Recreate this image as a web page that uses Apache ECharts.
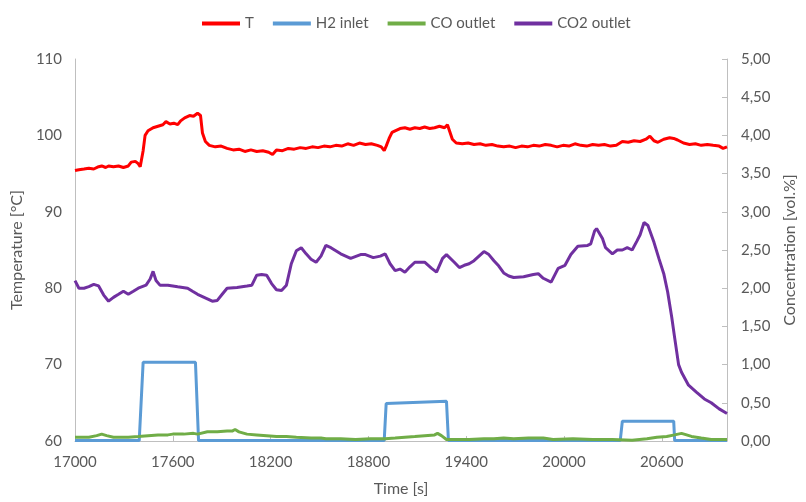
<!DOCTYPE html>
<html>
<head>
<meta charset="utf-8">
<script src="https://cdn.jsdelivr.net/npm/echarts@6/dist/echarts.min.js"></script>
<style>
html,body{margin:0;padding:0;background:#fff;}
#chart{width:806px;height:502px;}
</style>
</head>
<body>
<div id="chart"></div>
<script>
// ---- Data ----
var xTicks = [17000, 17600, 18200, 18800, 19400, 20000, 20600];

var tTime = [17000,17024,17055,17085,17115,17145,17164,17188,17206,17236,17267,17297,17327,17345,17370,17388,17400,17406,17418,17430,17448,17479,17509,17539,17558,17582,17606,17630,17648,17673,17703,17727,17752,17770,17782,17800,17824,17861,17897,17933,17970,18006,18042,18079,18115,18152,18188,18212,18236,18273,18309,18345,18382,18418,18455,18491,18527,18564,18600,18636,18673,18709,18745,18782,18818,18855,18879,18897,18909,18927,18945,18964,18994,19024,19055,19085,19115,19145,19176,19206,19236,19267,19285,19297,19315,19339,19376,19412,19448,19485,19521,19558,19594,19630,19667,19703,19739,19776,19812,19848,19885,19921,19958,19994,20030,20067,20103,20139,20176,20212,20248,20285,20321,20358,20394,20430,20467,20503,20527,20552,20576,20612,20648,20673,20697,20733,20770,20806,20842,20879,20915,20952,20976,21000];
var tempT = [95.4,95.5,95.6,95.7,95.6,95.9,96.0,95.8,96.0,95.9,96.0,95.8,96.0,96.5,96.6,96.3,95.9,95.8,98.0,100.0,100.6,101.0,101.2,101.4,101.8,101.5,101.6,101.4,101.9,102.3,102.6,102.5,102.9,102.6,100.3,99.2,98.7,98.5,98.6,98.3,98.1,98.2,97.9,98.1,97.9,98.0,97.8,97.5,98.1,98.0,98.3,98.2,98.4,98.3,98.5,98.4,98.6,98.5,98.7,98.6,98.9,98.7,99.0,98.8,98.9,98.7,98.5,98.0,98.6,99.6,100.4,100.6,100.9,101.0,100.8,101.0,100.9,101.1,100.9,101.0,101.2,101.0,101.4,101.3,99.5,99.0,98.9,99.0,98.8,98.9,98.7,98.8,98.6,98.5,98.6,98.4,98.6,98.5,98.7,98.6,98.8,98.7,98.5,98.7,98.6,98.9,98.7,98.6,98.8,98.7,98.8,98.6,98.7,99.2,99.1,99.3,99.2,99.5,99.9,99.3,99.1,99.5,99.7,99.6,99.4,99.0,98.8,98.9,98.7,98.8,98.7,98.6,98.3,98.5];

var h2Time = [17000,17394,17418,17739,17758,18897,18909,19279,19291,20345,20358,20673,20679,21000];
var h2Inlet = [0.005,0.005,1.03,1.03,0.005,0.005,0.49,0.52,0.005,0.005,0.26,0.26,0.005,0.005];

var coTime = [17000,17085,17133,17164,17194,17236,17327,17388,17448,17509,17570,17600,17667,17727,17752,17812,17873,17933,17964,17982,18006,18055,18115,18176,18236,18297,18358,18448,18509,18539,18630,18721,18812,18903,18964,19024,19085,19145,19206,19224,19248,19279,19327,19418,19509,19570,19630,19691,19782,19873,19933,20055,20176,20297,20418,20509,20570,20630,20679,20721,20752,20782,20842,20903,21000];
var coOutlet = [0.05,0.05,0.07,0.09,0.07,0.05,0.05,0.06,0.07,0.08,0.08,0.09,0.09,0.10,0.09,0.12,0.12,0.13,0.13,0.15,0.12,0.09,0.08,0.07,0.06,0.06,0.05,0.04,0.04,0.03,0.03,0.02,0.03,0.03,0.04,0.05,0.06,0.07,0.08,0.10,0.07,0.02,0.02,0.02,0.03,0.03,0.04,0.03,0.04,0.04,0.02,0.03,0.02,0.02,0.01,0.03,0.05,0.06,0.08,0.10,0.08,0.06,0.04,0.02,0.02];

var co2Time = [17000,17024,17055,17085,17115,17145,17176,17206,17236,17267,17297,17327,17358,17388,17436,17461,17479,17497,17521,17570,17630,17691,17721,17752,17812,17842,17873,17903,17933,17994,18055,18085,18115,18145,18176,18206,18236,18267,18297,18327,18358,18388,18418,18448,18479,18509,18539,18570,18630,18691,18752,18782,18830,18873,18903,18933,18964,18994,19024,19055,19085,19145,19188,19218,19255,19279,19327,19358,19388,19418,19448,19509,19539,19570,19600,19630,19661,19691,19752,19812,19842,19873,19921,19964,20006,20042,20085,20145,20164,20188,20200,20236,20255,20297,20327,20358,20388,20418,20448,20467,20491,20515,20552,20582,20612,20636,20661,20679,20703,20721,20764,20812,20861,20903,20952,21000];
var co2Outlet = [2.10,2.00,2.00,2.02,2.05,2.03,1.91,1.83,1.88,1.92,1.96,1.92,1.96,2.00,2.04,2.12,2.22,2.10,2.04,2.04,2.02,2.00,1.96,1.92,1.86,1.83,1.84,1.92,2.00,2.01,2.03,2.04,2.17,2.18,2.17,2.06,1.98,1.97,2.04,2.32,2.49,2.53,2.45,2.38,2.34,2.42,2.56,2.53,2.45,2.39,2.44,2.44,2.40,2.42,2.45,2.32,2.23,2.25,2.21,2.28,2.34,2.34,2.26,2.21,2.39,2.44,2.34,2.27,2.30,2.32,2.36,2.48,2.44,2.36,2.29,2.20,2.16,2.14,2.15,2.18,2.19,2.13,2.08,2.26,2.30,2.44,2.55,2.56,2.58,2.75,2.78,2.65,2.53,2.45,2.50,2.50,2.53,2.50,2.62,2.70,2.86,2.82,2.60,2.39,2.19,1.95,1.62,1.35,1.00,0.90,0.73,0.64,0.55,0.50,0.42,0.36];

function pairs(xs, ys){ var out=[]; for (var i=0;i<xs.length;i++) out.push([xs[i], ys[i]]); return out; }

var FONT = 'Lato';
var TXT = '#595959';
var AX = '#BFBFBF';

var chart = echarts.init(document.getElementById('chart'), null, {renderer:'canvas'});
chart.setOption({
  animation: false,
  textStyle: {fontFamily: FONT},
  legend: {
    top: 11,
    left: 197,
    itemWidth: 38,
    itemHeight: 4,
    itemGap: 19,
    icon: 'rect',
    textStyle: {fontFamily: FONT, fontSize: 15, color: TXT},
    data: ['T','H2 inlet','CO outlet','CO2 outlet']
  },
  grid: {left: 75, right: 69, top: 59, bottom: 58, containLabel: false},
  xAxis: {
    type: 'value', min: 17000, max: 21000, interval: 600,
    name: 'Time [s]', nameLocation: 'middle', nameGap: 40,
    nameTextStyle: {fontFamily: FONT, fontSize: 16, color: TXT},
    axisLine: {show: true, lineStyle: {color: AX, width: 1}},
    axisTick: {show: true, inside: true, length: 5, lineStyle: {color: AX}},
    splitLine: {show: false},
    axisLabel: {color: TXT, fontSize: 15, fontFamily: FONT, margin: 14, showMaxLabel: false,
      formatter: function(v){ return xTicks.indexOf(v) >= 0 ? String(v) : ''; }}
  },
  yAxis: [{
    type: 'value', min: 60, max: 110, interval: 10, position: 'left',
    name: 'Temperature [°C]', nameLocation: 'middle', nameGap: 48, nameRotate: 90,
    nameTextStyle: {fontFamily: FONT, fontSize: 16, color: TXT},
    axisLine: {show: true, lineStyle: {color: AX, width: 1}},
    axisTick: {show: false},
    splitLine: {show: false},
    axisLabel: {color: TXT, fontSize: 15, fontFamily: FONT, margin: 13}
  },{
    type: 'value', min: 0, max: 5, interval: 0.5, position: 'right',
    name: 'Concentration [vol.%]', nameLocation: 'middle', nameGap: 55, nameRotate: 90,
    nameTextStyle: {fontFamily: FONT, fontSize: 16, color: TXT},
    axisLine: {show: true, lineStyle: {color: AX, width: 1}},
    axisTick: {show: true, inside: true, length: 5, lineStyle: {color: AX}},
    splitLine: {show: false},
    axisLabel: {color: TXT, fontSize: 15, fontFamily: FONT, margin: 14,
      formatter: function(v){ return v.toFixed(2).replace('.', ','); }}
  }],
  series: [
    {name: 'T', type: 'line', yAxisIndex: 0, showSymbol: false, symbol: 'none',
     data: pairs(tTime, tempT), lineStyle: {color: '#FF0000', width: 3}, itemStyle: {color: '#FF0000'}},
    {name: 'H2 inlet', type: 'line', yAxisIndex: 1, showSymbol: false, symbol: 'none',
     data: pairs(h2Time, h2Inlet), lineStyle: {color: '#5B9BD5', width: 3}, itemStyle: {color: '#5B9BD5'}},
    {name: 'CO outlet', type: 'line', yAxisIndex: 1, showSymbol: false, symbol: 'none',
     data: pairs(coTime, coOutlet), lineStyle: {color: '#70AD47', width: 3}, itemStyle: {color: '#70AD47'}},
    {name: 'CO2 outlet', type: 'line', yAxisIndex: 1, showSymbol: false, symbol: 'none',
     data: pairs(co2Time, co2Outlet), lineStyle: {color: '#7030A0', width: 3}, itemStyle: {color: '#7030A0'}}
  ]
});
</script>
</body>
</html>
